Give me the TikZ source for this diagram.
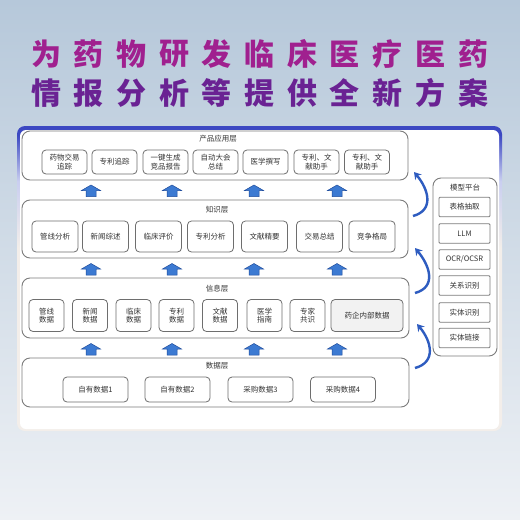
\documentclass[tikz,border=0pt]{standalone}
\usepackage{fontspec}
\newfontfamily\cjk{Noto Sans CJK SC}
\usetikzlibrary{arrows.meta}
\definecolor{bgtop}{HTML}{B6C8DA}
\definecolor{bgbot}{HTML}{EEF1F5}
\definecolor{pblue}{HTML}{3C48C2}
\definecolor{pmid}{HTML}{C9CEF0}
\definecolor{pbot}{HTML}{F3EEEA}
\definecolor{headA}{HTML}{A0208F}
\definecolor{headB}{HTML}{6A2293}
\definecolor{layergray}{HTML}{7C7C7C}
\definecolor{boxgray}{HTML}{6E6E6E}
\definecolor{txt}{HTML}{333333}
\definecolor{arrblue}{HTML}{3C7AD2}
\definecolor{arrdark}{HTML}{1F4C9C}
\definecolor{arcblue}{HTML}{2E5CC0}
\pgfdeclareverticalshading{panelrim}{100bp}{color(0bp)=(pbot); color(55bp)=(pbot);
  color(66bp)=(pmid); color(73.5bp)=(pblue); color(100bp)=(pblue)}
\tikzset{pics/uparr/.style={code={
  \draw[fill=arrblue, draw=arrdark, line width=0.5pt]
    (-5,-6) -- (-5,0) -- (-9.5,0) -- (0,5.5) -- (9.5,0) -- (5,0) -- (5,-6) -- cycle;}}}
\begin{document}
\begin{tikzpicture}[x=1pt, y=1pt,
  layer/.style={draw=layergray, line width=0.9pt, rounded corners=8pt, fill=white, inner sep=0pt},
  item/.style={draw=boxgray, line width=0.8pt, rounded corners=4pt, fill=white, inner sep=0pt,
    font=\cjk\fontsize{7.5}{8.6}\selectfont, text=txt, align=center},
  mitem/.style={item, rounded corners=1pt, draw=layergray, line width=0.9pt, minimum width=51pt, minimum height=19.5pt},
  ttl/.style={font=\cjk\fontsize{7.5}{9}\selectfont, text=txt},
  head/.style={font=\cjk\bfseries\fontsize{30}{30}\selectfont, inner sep=0pt},
  cyc/.style={-{Stealth[length=7pt, width=8.5pt]}, line width=2.4pt, draw=arcblue, looseness=1.3}]
  \useasboundingbox (0,0) rectangle (520,-520);
  % background and panel
  \shade[top color=bgtop, bottom color=bgbot] (0,0) rectangle (520,-520);
  \shade[shading=panelrim, rounded corners=8pt] (17,-126) rectangle (502,-431);
  \fill[white, rounded corners=6pt] (20,-130) rectangle (499,-429);
  % headline
  \foreach \c [count=\n from 0] in {为,药,物,研,发,临,床,医,疗,医,药}
    \node[head, text=headA] (ha\n) at (46+42.7*\n,-54) {\c};
  \foreach \c [count=\n from 0] in {情,报,分,析,等,提,供,全,新,方,案}
    \node[head, text=headB] (hb\n) at (46+42.7*\n,-93) {\c};
  % layers
  \node[layer, minimum width=386pt, minimum height=49pt] (prod) at (215,-155.5) {};
  \node[layer, minimum width=386pt, minimum height=58pt] (know) at (215,-229) {};
  \node[layer, minimum width=387pt, minimum height=60pt] (info) at (215.5,-308) {};
  \node[layer, minimum width=387pt, minimum height=49pt] (data) at (215.5,-382.5) {};
  \node[layer, minimum width=64pt, minimum height=178pt] (model) at (465,-267) {};
  \node[ttl] (prodttl) at (218,-139) {产品应用层};
  \node[ttl] (knowttl) at (217,-210) {知识层};
  \node[ttl] (infottl) at (217,-289) {信息层};
  \node[ttl] (datattl) at (217,-366) {数据层};
  \node[ttl] (modelttl) at (465,-188) {模型平台};
  % product layer
  \foreach \x/\t [count=\n] in {64.5/{药物交易\\追踪}, 114.5/{专利追踪}, 165.5/{一键生成\\竞品报告},
      215.5/{自动大会\\总结}, 265.5/{医学撰写}, 316.5/{专利、文\\献助手}, 367/{专利、文\\献助手}}
    \node[item, minimum width=45pt, minimum height=24pt] (p\n) at (\x,-162) {\t};
  % knowledge layer
  \foreach \x/\t [count=\n] in {55/管线分析, 105.5/新闻综述, 158.5/临床评价, 210.5/专利分析,
      264.5/文献精要, 319.5/交易总结, 372/竞争格局}
    \node[item, minimum width=46pt, minimum height=31pt] (k\n) at (\x,-236.5) {\t};
  % information layer
  \foreach \x/\t [count=\n] in {46.5/{管线\\数据}, 90/{新闻\\数据}, 133.5/{临床\\数据}, 176.5/{专利\\数据},
      220/{文献\\数据}, 264.5/{医学\\指南}, 307.5/{专家\\共识}}
    \node[item, minimum width=35pt, minimum height=32pt] (i\n) at (\x,-315.5) {\t};
  \node[item, fill=black!5, minimum width=72pt, minimum height=32pt] (i8) at (367,-315.5) {药企内部数据};
  % data layer
  \foreach \x/\t [count=\n] in {95.5/自有数据1, 177.5/自有数据2, 260.5/采购数据3, 343/采购数据4}
    \node[item, minimum width=65pt, minimum height=25pt] (d\n) at (\x,-389.5) {\t};
  % model platform
  \foreach \y/\t [count=\n] in {207/表格抽取, 233.5/LLM, 259.5/{OCR/OCSR}, 285.5/关系识别, 312.5/实体识别, 338/实体链接}
    \node[mitem] (m\n) at (464.5,-\y) {\t};
  % block arrows
  \foreach \x in {91,172,254,337} {
    \pic at (\x,-190.5) {uparr};
    \pic at (\x,-269) {uparr};
    \pic at (\x,-349) {uparr};
  }
  % edges
  \coordinate (kt) at (413,-216);
  \coordinate (ph) at (414,-172);
  \coordinate (it) at (415,-293);
  \coordinate (kh) at (415,-248);
  \coordinate (dt) at (415,-368);
  \coordinate (ih) at (417,-324);
  \draw[cyc] (kt) to[out=15, in=-50] (ph);
  \draw[cyc] (it) to[out=15, in=-50] (kh);
  \draw[cyc] (dt) to[out=15, in=-50] (ih);
\end{tikzpicture}
\end{document}
